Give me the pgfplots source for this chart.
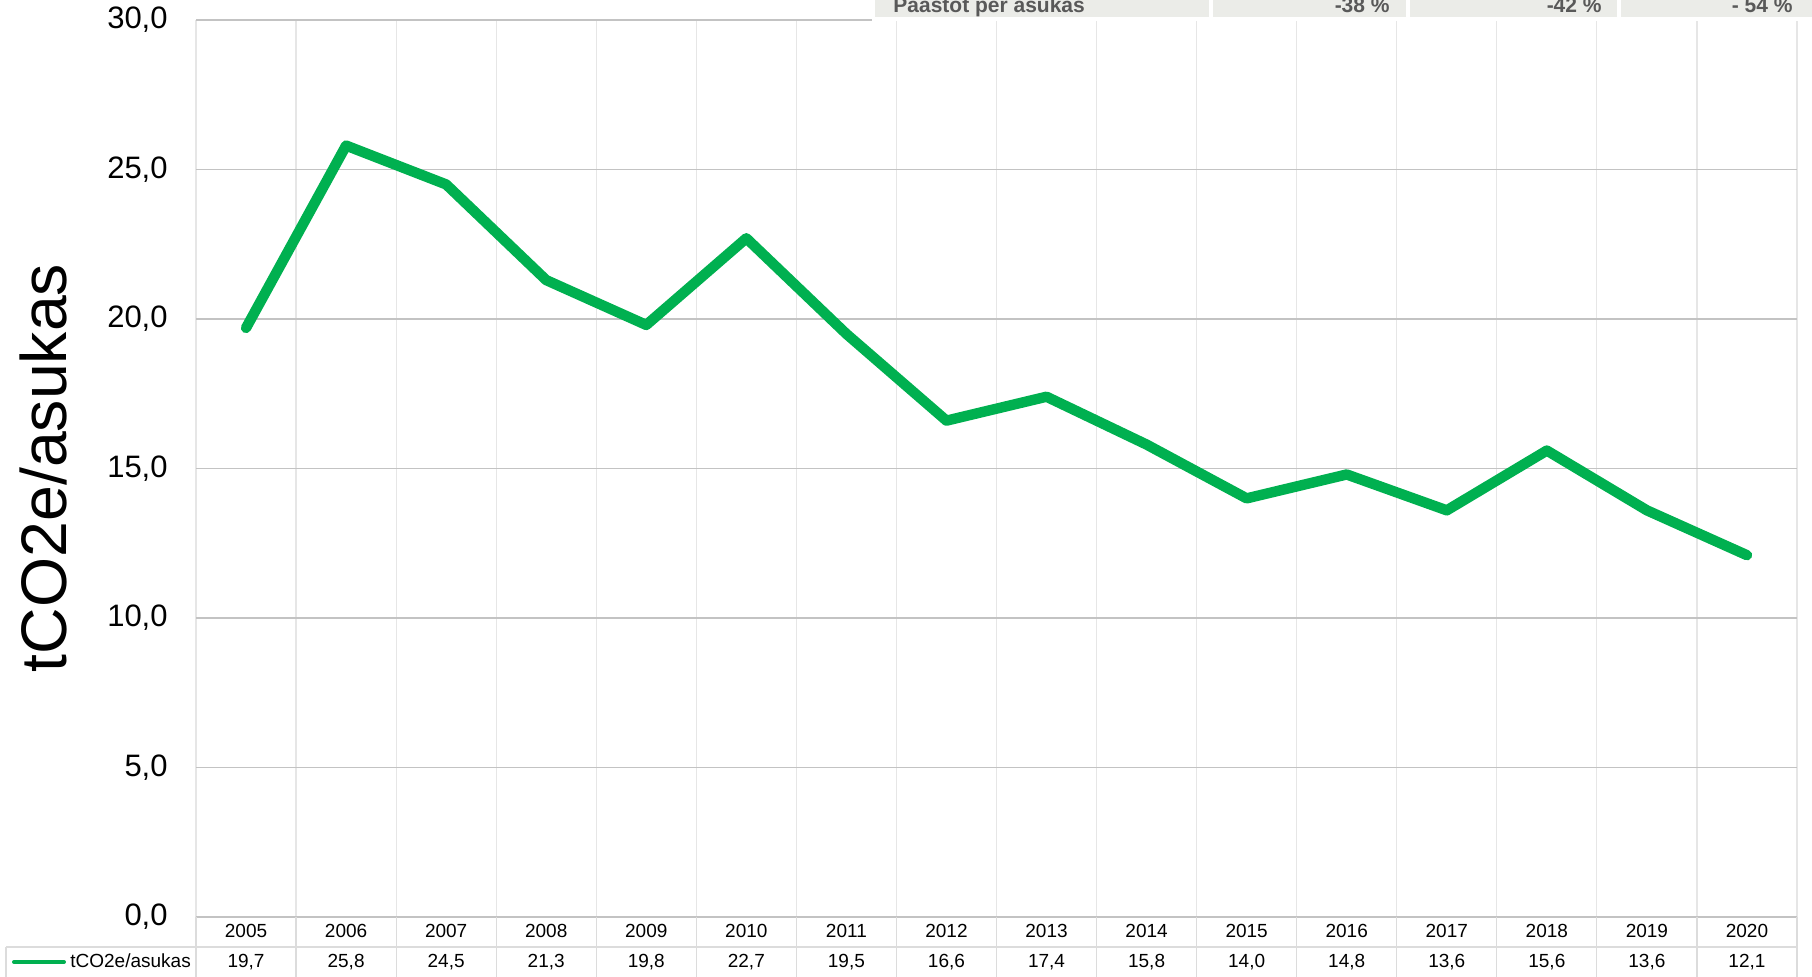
\documentclass[border=0pt]{standalone}
\usepackage{pgfplots}
\pgfplotsset{compat=1.18}
\usepackage{pgfplotstable}
\usepackage{fontspec}
\setmainfont{Liberation Sans}
\definecolor{lgreen}{HTML}{00B050}
\definecolor{gridgray}{HTML}{C3C3C3}
\definecolor{sepgray}{HTML}{E6E6E6}
\definecolor{tablegray}{HTML}{DCDCDC}
\definecolor{boxgray}{HTML}{EBECE8}
\definecolor{boxtext}{HTML}{595959}

\pgfplotstableread{
x year v
0 2005 19.7
1 2006 25.8
2 2007 24.5
3 2008 21.3
4 2009 19.8
5 2010 22.7
6 2011 19.5
7 2012 16.6
8 2013 17.4
9 2014 15.8
10 2015 14.0
11 2016 14.8
12 2017 13.6
13 2018 15.6
14 2019 13.6
15 2020 12.1
}\datatable

\begin{document}
\begin{tikzpicture}
\path[use as bounding box] (0,0) rectangle (906pt,488.5pt);
\clip (0,0) rectangle (906pt,488.5pt);
\begin{axis}[
  at={(98pt,30pt)}, anchor=south west,
  scale only axis, width=800.5pt, height=448.5pt,
  xmin=-0.5, xmax=15.5, ymin=0, ymax=30,
  ytick={0,5,10,15,20,25,30},
  xtick={0,...,15},
  xticklabels={2005,2006,2007,2008,2009,2010,2011,2012,2013,2014,2015,2016,2017,2018,2019,2020},
  minor xtick={-0.5,0.5,1.5,2.5,3.5,4.5,5.5,6.5,7.5,8.5,9.5,10.5,11.5,12.5,13.5,14.5,15.5},
  ymajorgrids, xminorgrids, xmajorgrids=false,
  major grid style={draw=gridgray, line width=0.75pt},
  minor grid style={draw=sepgray, line width=0.6pt},
  axis line style={draw=none},
  major tick length=0pt, minor tick length=0pt,
  clip=false,
  /pgf/number format/assume math mode=true,
  yticklabel style={font=\fontsize{15.5}{18}\selectfont, anchor=east, inner sep=0pt, xshift=-14pt,
    /pgf/number format/.cd, fixed, fixed zerofill, precision=1, use comma},
  xticklabel style={font=\fontsize{9.5}{11}\selectfont, anchor=base, inner sep=0pt, yshift=-10.4pt},
]
\addplot[color=lgreen, line width=5.2pt, line join=round, line cap=round, mark=none]
  table[x=x, y=v] {\datatable};
\addplot[draw=none, mark=none, point meta=\thisrow{v},
  nodes near coords={\pgfmathprintnumber[fixed,fixed zerofill,precision=1,use comma,assume math mode=true]{\pgfplotspointmeta}},
  nodes near coords style={anchor=base, inner sep=0pt, yshift=-25.4pt, text=black, font=\fontsize{9.5}{11}\selectfont}]
  table[x=x, y expr=0] {\datatable};
\end{axis}

% bottom data table lines
\foreach \k in {0,...,16} {
  \draw[tablegray, line width=0.6pt] ({98pt+50.03125pt*\k},0pt) -- ({98pt+50.03125pt*\k},30pt);
}
\draw[tablegray, line width=0.6pt] (3pt,15pt) -- (898.5pt,15pt);
\draw[tablegray, line width=0.6pt] (3pt,0pt) -- (3pt,15pt);
\draw[lgreen, line width=2pt, line cap=round] (7pt,7.5pt) -- (32pt,7.5pt);
\node[anchor=base west, inner sep=0pt, font=\fontsize{9.5}{11}\selectfont] at (35pt,4.6pt) {tCO2e/asukas};

% y label
\node[rotate=90, font=\fontsize{32.2}{38}\selectfont] at (21.5pt,254.5pt) {tCO2e/asukas};

% top cropped table
\fill[white] (436pt,477.8pt) rectangle (906pt,490pt);
\fill[boxgray] (437.5pt,480pt) rectangle (604.5pt,492pt);
\fill[boxgray] (606.5pt,480pt) rectangle (703pt,492pt);
\fill[boxgray] (705pt,480pt) rectangle (808.5pt,492pt);
\fill[boxgray] (810.5pt,480pt) rectangle (910pt,492pt);
\node[anchor=base west, inner sep=0pt, text=boxtext, font=\fontsize{10.5}{12}\selectfont\bfseries] at (446.5pt,482.2pt) {Päästöt per asukas};
\node[anchor=base east, inner sep=0pt, text=boxtext, font=\fontsize{10.5}{12}\selectfont\bfseries] at (695pt,482.2pt) {-38 \%};
\node[anchor=base east, inner sep=0pt, text=boxtext, font=\fontsize{10.5}{12}\selectfont\bfseries] at (801pt,482.2pt) {-42 \%};
\node[anchor=base east, inner sep=0pt, text=boxtext, font=\fontsize{10.5}{12}\selectfont\bfseries] at (896.5pt,482.2pt) {- 54 \%};
\end{tikzpicture}
\end{document}
